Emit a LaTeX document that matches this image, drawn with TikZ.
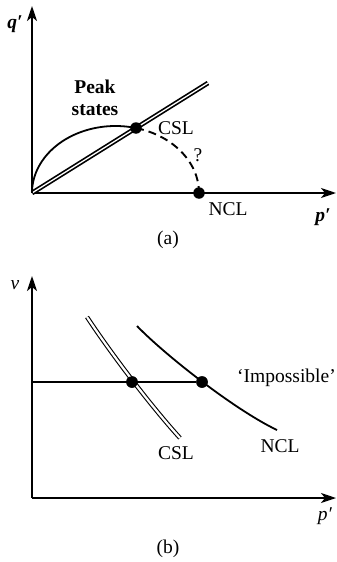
\documentclass[tikz,border=0pt]{standalone}
\usepackage{fontspec}
\setmainfont{Liberation Serif}
\usetikzlibrary{arrows.meta}
\begin{document}
\begin{tikzpicture}[x=1pt,y=-1pt,
  axis/.style={line width=1.8pt,-{Stealth[length=15pt,width=10pt,inset=4pt]}},
  curve/.style={line width=1.8pt},
  dashcurve/.style={line width=1.9pt,dash pattern=on 8pt off 5pt},
  dbl/.style={double=white,double distance=1.3pt,line width=1.7pt},
  dblthin/.style={double=white,double distance=2.2pt,line width=1.1pt},
  dot/.style={circle,fill=black,inner sep=0pt,minimum size=11.5pt},
  lbl/.style={font=\fontsize{19.5}{22}\selectfont,inner sep=0pt}]
\useasboundingbox (0,0) rectangle (337,562);
% ---------- panel (a)
\coordinate (Oa) at (32,193);
\coordinate (Ya) at (32,6);
\coordinate (Xa) at (336,193);
\coordinate (Ea) at (208,83);
\draw[axis] (Oa) -- (Ya);
\draw[axis] (Oa) -- (Xa);
\draw[dbl] (Oa) -- (Ea);
\draw[curve] plot[domain=180:75.8,samples=60,smooth] ({115.5+83.5*cos(\x)},{193-67*sin(\x)});
\draw[dashcurve] plot[domain=75.8:0,samples=60,smooth] ({115.5+83.5*cos(\x)},{193-67*sin(\x)});
\node[dot] (cslA) at (136,128) {};
\node[dot] (nclA) at (199,193) {};
\node[lbl] (qa) at (15,24) {\textbf{\textit{q′}}};
\node[lbl] (pa) at (323,217) {\textbf{\textit{p′}}};
\node[lbl,align=center,font=\fontsize{19.5}{21.5}\selectfont\bfseries] (peak) at (95,98) {Peak\\states};
\node[lbl] (csla) at (176,128) {CSL};
\node[lbl] (qm) at (198,155) {?};
\node[lbl] (ncla) at (228,209) {NCL};
\node[lbl] (la) at (168,240) {(a)};
% ---------- panel (b)
\coordinate (Ob) at (32,498);
\coordinate (Yb) at (32,276);
\coordinate (Xb) at (336,498);
\coordinate (Hb) at (32,382);
\draw[axis] (Ob) -- (Yb);
\draw[axis] (Ob) -- (Xb);
\node[dot] (cslB) at (132,382) {};
\node[dot] (nclB) at (202,382) {};
\draw[line width=1.4pt] (Hb) -- (nclB);
\coordinate (c1) at (87,317);
\coordinate (c2) at (180,438);
\draw[dblthin] (c1) .. controls (110,352) and (150,405) .. (c2);
\coordinate (n1) at (137,326);
\coordinate (n2) at (277,430);
\draw[curve] (n1) .. controls (165,355) and (235,410) .. (n2);
\node[dot] at (cslB) {};
\node[dot] at (nclB) {};
\node[lbl] (cslb) at (176,453) {CSL};
\node[lbl] (nclb) at (280,446) {NCL};
\node[lbl,anchor=east] (imp) at (336,378) {‘Impossible’};
\node[lbl] (vb) at (15,285) {\textit{v}};
\node[lbl] (pb) at (325,516) {\textit{p′}};
\node[lbl] (lb) at (168,549) {(b)};
\end{tikzpicture}
\end{document}
